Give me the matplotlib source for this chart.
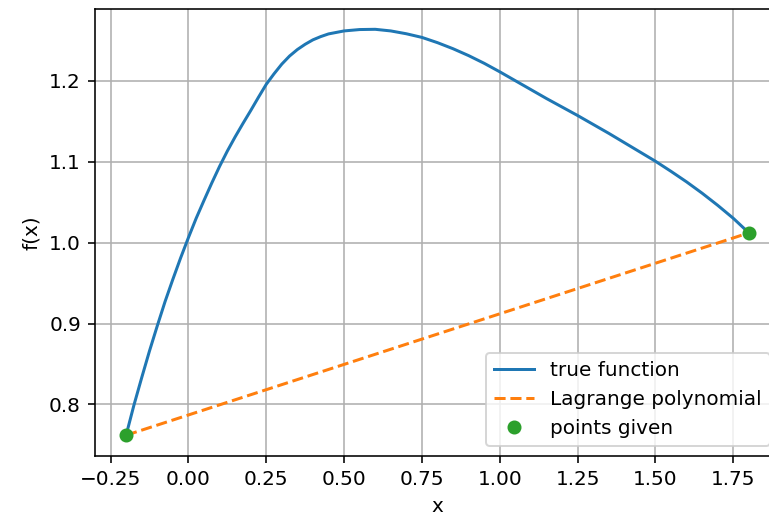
import matplotlib
matplotlib.use("Agg")
import matplotlib.pyplot as plt

# Sampled values of the true function
x_true = [-0.200, -0.175, -0.150, -0.125, -0.100, -0.075, -0.050, -0.025,
          0.000, 0.025, 0.050, 0.075, 0.100, 0.125, 0.150, 0.175,
          0.200, 0.225, 0.250, 0.275, 0.300, 0.325, 0.350, 0.375,
          0.400, 0.425, 0.450, 0.500, 0.550, 0.600, 0.650, 0.700,
          0.750, 0.800, 0.850, 0.900, 0.950, 1.000, 1.050, 1.100,
          1.150, 1.200, 1.250, 1.300, 1.350, 1.400, 1.450, 1.500,
          1.550, 1.600, 1.650, 1.700, 1.750, 1.800]
y_true = [0.762, 0.799, 0.833, 0.866, 0.897, 0.927, 0.9545, 0.981,
          1.006, 1.030, 1.052, 1.0735, 1.094, 1.113, 1.1305, 1.147,
          1.163, 1.1795, 1.1955, 1.2085, 1.2205, 1.2305, 1.2385, 1.2450,
          1.2505, 1.2545, 1.2578, 1.2615, 1.2632, 1.2635, 1.2615, 1.258,
          1.2535, 1.247, 1.2395, 1.231, 1.2215, 1.211, 1.200, 1.189,
          1.178, 1.1675, 1.157, 1.146, 1.135, 1.1235, 1.112, 1.1005,
          1.088, 1.075, 1.061, 1.046, 1.030, 1.012]

# Interpolation nodes
x_nodes = [-0.2, 1.8]
y_nodes = [0.762, 1.012]

DPI = 144
fig = plt.figure(figsize=(769 / DPI, 515 / DPI), dpi=DPI)
ax = fig.add_axes([0.1235, 0.1155, 0.8908, 0.867])

ax.plot(x_true, y_true, label="true function")
ax.plot(x_nodes, y_nodes, "--", label="Lagrange polynomial")
ax.plot(x_nodes, y_nodes, "o", label="points given")

ax.set_xticks([-0.25, 0.0, 0.25, 0.5, 0.75, 1.0, 1.25, 1.5, 1.75])
ax.set_yticks([0.8, 0.9, 1.0, 1.1, 1.2])
ax.set_xlabel("x")
ax.set_ylabel("f(x)")
ax.grid(True)
ax.legend(loc="lower right")

fig.savefig("out.png", dpi=DPI)
